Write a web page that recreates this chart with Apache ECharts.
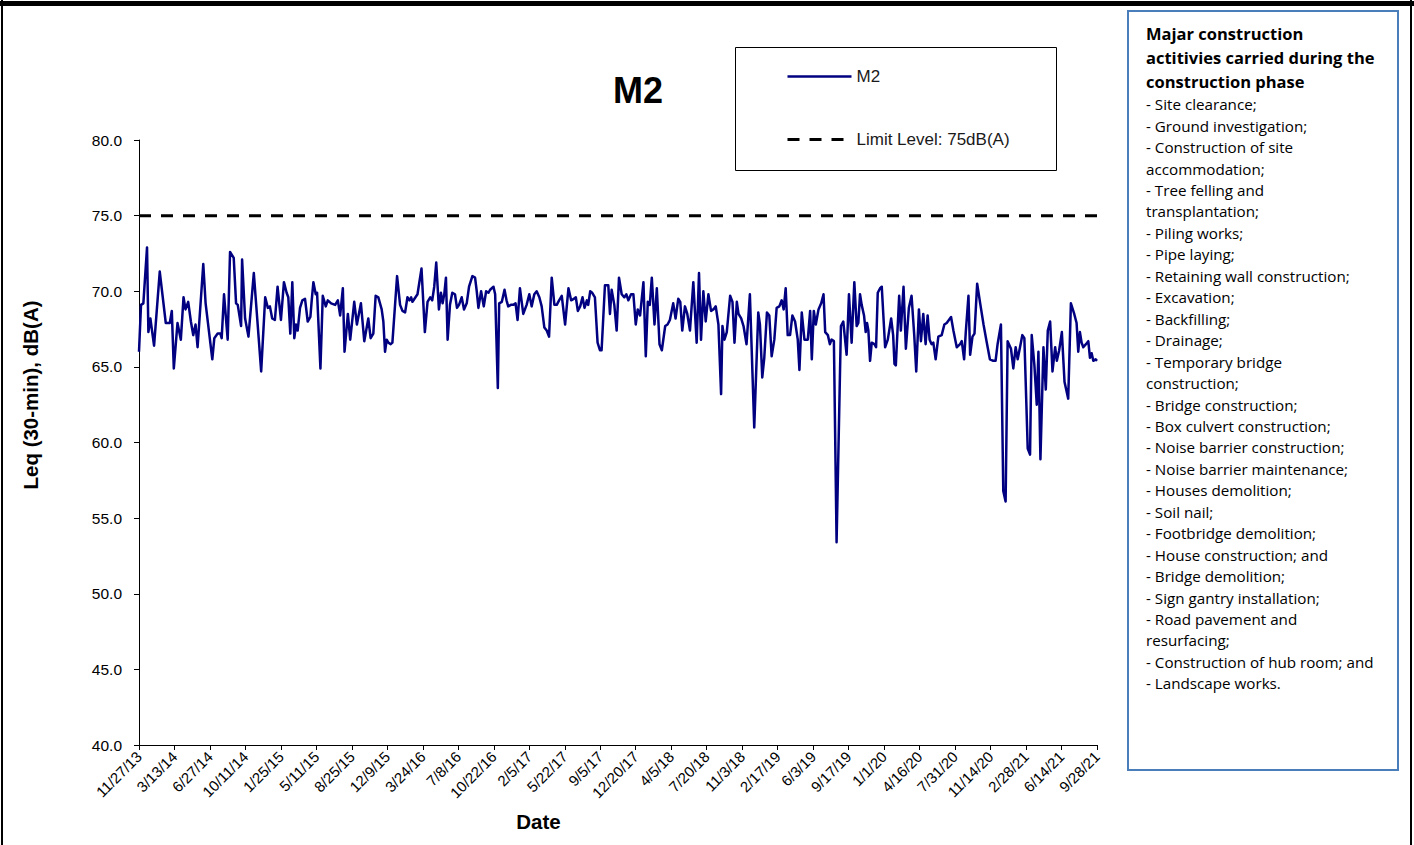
<!DOCTYPE html>
<html>
<head>
<meta charset="utf-8">
<title>M2 noise monitoring</title>
<script src="https://cdn.jsdelivr.net/npm/echarts@6/dist/echarts.min.js"></script>
<style>
  html, body { margin: 0; padding: 0; background: #fff; }
  #chart { width: 1414px; height: 845px; }
</style>
</head>
<body>
<div id="chart"></div>
<script>
// Measurement dates at station M2
const sampleDates = [
  '2013-11-27','2013-12-03','2013-12-10','2013-12-21','2013-12-25','2013-12-31','2014-01-11','2014-01-28',
  '2014-02-15','2014-02-27','2014-03-05','2014-03-11','2014-03-22','2014-04-01','2014-04-09','2014-04-15',
  '2014-04-23','2014-05-01','2014-05-08','2014-05-15','2014-05-21','2014-06-07','2014-06-14','2014-07-04',
  '2014-07-10','2014-07-20','2014-07-28','2014-08-01','2014-08-08','2014-08-19','2014-08-26','2014-09-06',
  '2014-09-13','2014-09-18','2014-09-28','2014-10-01','2014-10-10','2014-10-20','2014-11-05','2014-11-27',
  '2014-12-09','2014-12-17','2014-12-23','2014-12-30',
  '2015-01-07','2015-01-15','2015-01-25','2015-02-03','2015-02-11','2015-02-16','2015-02-22','2015-02-28',
  '2015-03-06','2015-03-11','2015-03-16','2015-03-23','2015-03-30','2015-04-07','2015-04-15','2015-04-23',
  '2015-04-27','2015-05-02','2015-05-09','2015-05-13','2015-05-23','2015-05-30','2015-06-08','2015-06-14',
  '2015-06-24','2015-07-06','2015-07-14','2015-07-21','2015-07-29','2015-08-03','2015-08-13','2015-08-20',
  '2015-09-01','2015-09-09','2015-09-21','2015-10-01','2015-10-13','2015-10-20','2015-10-28','2015-11-04',
  '2015-11-12','2015-11-22','2015-11-27','2015-12-02','2015-12-07','2015-12-12','2015-12-19','2015-12-24',
  '2016-01-07','2016-01-16','2016-01-23','2016-01-31','2016-02-07','2016-02-13','2016-02-18','2016-02-22',
  '2016-02-28','2016-03-08','2016-03-20','2016-03-30','2016-04-07','2016-04-15','2016-04-21','2016-04-27',
  '2016-05-03','2016-05-11','2016-05-17','2016-05-22','2016-05-27','2016-06-01','2016-06-06','2016-06-13',
  '2016-06-20','2016-06-28','2016-07-04','2016-07-10','2016-07-18','2016-07-25','2016-08-02','2016-08-09',
  '2016-08-19','2016-08-27','2016-09-01','2016-09-06','2016-09-14','2016-09-22','2016-09-29','2016-10-06',
  '2016-10-11','2016-10-21','2016-10-26','2016-11-03','2016-11-07','2016-11-15','2016-11-23','2016-11-29',
  '2016-12-04','2016-12-12','2016-12-19','2016-12-26',
  '2017-01-01','2017-01-08','2017-01-18','2017-01-28','2017-02-05','2017-02-12','2017-02-20','2017-02-27',
  '2017-03-07','2017-03-14','2017-03-22','2017-03-29','2017-04-05','2017-04-13','2017-04-21','2017-04-28',
  '2017-05-05','2017-05-13','2017-05-23','2017-06-02','2017-06-10','2017-06-18','2017-06-24','2017-06-30',
  '2017-07-07','2017-07-14','2017-07-20','2017-07-27','2017-07-31','2017-08-06','2017-08-12','2017-08-20',
  '2017-08-28','2017-09-04','2017-09-09','2017-09-19','2017-09-29','2017-10-04','2017-10-09','2017-10-17',
  '2017-10-24','2017-10-31','2017-11-08','2017-11-16','2017-11-22','2017-11-28','2017-12-06','2017-12-13',
  '2017-12-20','2017-12-26',
  '2018-01-02','2018-01-12','2018-01-19','2018-01-25','2018-01-31','2018-02-06','2018-02-14','2018-02-21',
  '2018-03-01','2018-03-08','2018-03-18','2018-03-25','2018-04-01','2018-04-11','2018-04-18','2018-04-26',
  '2018-05-02','2018-05-08','2018-05-16','2018-05-23','2018-05-31','2018-06-10','2018-06-20','2018-06-27',
  '2018-07-03','2018-07-10','2018-07-17','2018-07-25','2018-08-02','2018-08-09','2018-08-16','2018-08-24',
  '2018-09-01','2018-09-05','2018-09-11','2018-09-18','2018-09-28','2018-10-05','2018-10-11','2018-10-18',
  '2018-10-23','2018-10-31','2018-11-07','2018-11-16','2018-11-26','2018-12-09','2018-12-21','2018-12-26',
  '2019-01-02','2019-01-08','2019-01-16','2019-01-23','2019-01-30','2019-02-07','2019-02-14','2019-02-22',
  '2019-03-01','2019-03-07','2019-03-13','2019-03-19','2019-03-26','2019-04-02','2019-04-10','2019-04-18',
  '2019-04-23','2019-04-30','2019-05-08','2019-05-18','2019-05-25','2019-05-30','2019-06-05','2019-06-11',
  '2019-06-19','2019-06-27','2019-07-04','2019-07-09','2019-07-17','2019-07-23','2019-07-28','2019-08-04',
  '2019-08-12','2019-08-25','2019-09-01','2019-09-11','2019-09-18','2019-09-26','2019-10-04','2019-10-11',
  '2019-10-16','2019-10-21','2019-10-26','2019-11-02','2019-11-07','2019-11-11','2019-11-15','2019-11-20',
  '2019-11-25','2019-12-03','2019-12-08','2019-12-13','2019-12-20','2019-12-25',
  '2020-01-04','2020-01-12','2020-01-22','2020-01-28','2020-02-01','2020-02-05','2020-02-15','2020-02-20',
  '2020-02-28','2020-03-06','2020-03-15','2020-03-23','2020-03-31','2020-04-06','2020-04-14','2020-04-20',
  '2020-04-27','2020-05-04','2020-05-10','2020-05-16','2020-05-22','2020-05-27','2020-06-03','2020-06-11',
  '2020-06-21','2020-06-29','2020-07-06','2020-07-19','2020-07-26','2020-08-05','2020-08-15','2020-08-20',
  '2020-08-27','2020-09-01','2020-09-09','2020-09-14','2020-09-21','2020-09-27','2020-10-05','2020-10-14',
  '2020-10-24','2020-11-02','2020-11-12','2020-11-22','2020-11-29','2020-12-05','2020-12-15','2020-12-22',
  '2020-12-29',
  '2021-01-04','2021-01-14','2021-01-21','2021-01-28','2021-02-03','2021-02-10','2021-02-17','2021-02-23',
  '2021-03-05','2021-03-12','2021-03-17','2021-03-25','2021-04-01','2021-04-06','2021-04-12','2021-04-21',
  '2021-04-28','2021-05-04','2021-05-11','2021-05-18','2021-05-26','2021-05-31','2021-06-07','2021-06-15',
  '2021-06-23','2021-07-04','2021-07-12','2021-07-22','2021-07-29','2021-08-03','2021-08-08','2021-08-13',
  '2021-08-18','2021-08-26','2021-09-02','2021-09-07','2021-09-12','2021-09-17','2021-09-24','2021-09-28'
];

// Leq (30-min) in dB(A), one value per date above
const m2Leq = [
  66.0,69.1,69.2,72.9,67.3,68.2,66.4,71.3,
  67.9,67.9,68.7,64.9,67.9,66.8,69.6,68.8,
  69.3,68.0,67.1,67.8,66.3,71.8,69.2,65.5,
  66.9,67.2,67.2,66.9,69.8,66.8,72.6,72.2,
  69.2,69.1,67.7,72.1,68.2,67.0,71.2,64.7,
  69.6,68.9,69.0,68.2,
  68.1,70.3,68.1,70.6,69.9,69.6,67.2,70.6,
  66.9,67.8,67.4,68.9,69.4,69.5,68.0,68.3,
  69.4,70.6,69.8,69.9,64.9,69.7,69.0,69.4,
  69.2,69.1,69.4,68.4,70.2,66.0,68.5,66.8,
  69.3,67.8,69.2,66.7,68.2,66.9,67.2,69.7,
  69.6,68.8,68.0,66.0,66.8,66.6,66.5,66.6,
  71.0,69.1,68.7,68.6,69.6,69.4,69.6,69.3,
  69.5,69.8,71.5,67.3,69.3,69.6,69.4,70.3,
  71.9,68.8,69.9,69.2,69.8,70.9,66.8,69.1,
  69.9,69.8,68.9,69.1,69.6,68.8,69.2,70.3,
  71.0,70.9,70.0,68.9,70.0,69.0,70.0,69.9,
  70.1,70.3,69.8,63.6,69.2,69.3,70.1,69.4,
  69.0,69.1,69.1,69.2,
  68.1,70.2,68.5,69.1,69.8,69.0,69.8,70.0,
  69.6,69.0,67.6,67.4,67.0,70.9,69.1,69.1,
  69.4,69.7,67.8,70.2,69.4,69.5,69.6,68.7,
  69.0,69.6,68.9,69.4,69.1,70.0,69.9,69.6,
  66.6,66.1,66.1,70.4,70.4,68.5,70.1,69.1,
  67.4,70.9,69.8,69.6,69.8,69.4,69.8,69.8,
  67.8,68.8,
  68.4,70.6,65.7,69.3,69.1,70.9,67.8,70.2,
  66.5,66.1,67.7,67.8,68.1,69.2,68.2,69.5,
  69.3,67.4,69.0,68.5,67.4,70.6,66.6,71.2,
  66.8,70.0,68.0,69.8,68.7,68.8,69.0,67.8,
  63.2,67.7,66.8,67.3,69.7,69.3,66.6,69.3,
  68.5,68.2,67.7,66.5,69.8,61.0,68.6,67.8,
  64.3,65.6,68.6,68.4,65.7,66.8,68.9,69.0,
  69.4,68.8,70.2,67.1,67.1,68.4,68.0,66.8,
  64.8,68.6,66.8,66.8,68.7,65.5,68.7,67.8,
  68.8,69.2,69.8,67.3,67.1,66.5,66.8,66.7,
  53.4,67.7,68.0,65.8,69.8,66.6,70.6,67.7,
  67.9,69.8,69.1,68.4,67.3,67.9,67.4,65.4,
  66.6,66.5,66.3,69.9,70.2,70.3,
  66.3,66.8,68.2,67.1,65.2,65.1,69.7,67.4,
  70.3,66.2,68.9,69.7,67.1,64.7,68.8,66.7,
  68.5,66.5,68.4,66.8,66.5,66.6,65.5,67.0,
  67.1,67.8,67.9,68.3,67.4,66.3,66.5,66.7,
  65.5,67.3,69.7,65.8,67.0,67.2,70.5,69.2,
  67.8,66.7,65.5,65.4,65.4,66.5,67.8,56.8,
  56.1,
  66.7,66.2,64.9,66.3,65.5,66.3,67.1,66.9,
  59.6,59.2,67.1,65.1,62.5,66.0,58.9,66.3,
  63.5,67.4,68.0,64.7,66.3,65.4,66.1,67.3,
  64.0,62.9,69.2,68.5,67.9,66.0,67.3,66.6,
  66.3,66.5,66.7,65.6,65.9,65.4,65.5,65.4
];

const limitLevel = 75;
const limitName = 'Limit Level: 75dB(A)';

// Date axis: ticks every 106 days starting at the first survey date
const axisStartDate = '2013-11-27';
const axisEndDate = '2021-09-28';
const tickStepDays = 106;
const dateTickLabels = [
  '11/27/13','3/13/14','6/27/14','10/11/14','1/25/15','5/11/15','8/25/15','12/9/15',
  '3/24/16','7/8/16','10/22/16','2/5/17','5/22/17','9/5/17','12/20/17','4/5/18',
  '7/20/18','11/3/18','2/17/19','6/3/19','9/17/19','1/1/20','4/16/20','7/31/20',
  '11/14/20','2/28/21','6/14/21','9/28/21'
];

// Level axis
const levelMin = 40;
const levelMax = 80;
const levelStep = 5;

// Side note text
const noteHeading = ['Majar construction', 'actitivies carried during the', 'construction phase'];
const noteLines = [
  '- Site clearance;',
  '- Ground investigation;',
  '- Construction of site',
  'accommodation;',
  '- Tree felling and',
  'transplantation;',
  '- Piling works;',
  '- Pipe laying;',
  '- Retaining wall construction;',
  '- Excavation;',
  '- Backfilling;',
  '- Drainage;',
  '- Temporary bridge',
  'construction;',
  '- Bridge construction;',
  '- Box culvert construction;',
  '- Noise barrier construction;',
  '- Noise barrier maintenance;',
  '- Houses demolition;',
  '- Soil nail;',
  '- Footbridge demolition;',
  '- House construction; and',
  '- Bridge demolition;',
  '- Sign gantry installation;',
  '- Road pavement and',
  'resurfacing;',
  '- Construction of hub room; and',
  '- Landscape works.'
];

const DAY_MS = 86400000;
const toDayNo = d => Math.round((Date.parse(d + 'T00:00:00Z') - Date.parse(axisStartDate + 'T00:00:00Z')) / DAY_MS);
const lastDay = toDayNo(axisEndDate);

const m2Points = sampleDates.map((d, i) => [toDayNo(d), m2Leq[i]]);
const limitPoints = [[0, limitLevel], [lastDay, limitLevel]];

const ARIAL = '"Liberation Sans", Arial, sans-serif';
const NOTE_FONT = '"Open Sans", "Noto Sans", sans-serif';

const chart = echarts.init(document.getElementById('chart'), null, { renderer: 'svg' });

chart.setOption({
  animation: false,
  backgroundColor: '#ffffff',
  title: {
    text: 'M2',
    left: 613,
    top: 72,
    padding: 0,
    textStyle: { fontFamily: ARIAL, fontSize: 36, fontWeight: 'bold', color: '#000' }
  },
  legend: {
    orient: 'vertical',
    left: 786,
    top: 68,
    padding: 0,
    itemWidth: 64,
    itemHeight: 14,
    itemGap: 46,
    itemStyle: { opacity: 0 },
    textStyle: { fontFamily: ARIAL, fontSize: 17, color: '#1a1a1a' },
    lineStyle: { width: 'inherit', type: 'inherit' },
    data: ['M2', limitName]
  },
  grid: { left: 139, top: 140, width: 958, height: 605, containLabel: false },
  xAxis: {
    type: 'value',
    min: 0,
    max: lastDay,
    interval: tickStepDays,
    axisLine: { lineStyle: { color: '#000', width: 1 } },
    axisTick: { show: true, inside: false, length: 5, lineStyle: { color: '#000' } },
    splitLine: { show: false },
    axisLabel: {
      rotate: 45,
      margin: 9,
      fontFamily: ARIAL,
      fontSize: 15,
      color: '#000',
      formatter: v => dateTickLabels[Math.round(v / tickStepDays)] || ''
    }
  },
  yAxis: {
    type: 'value',
    min: levelMin,
    max: levelMax,
    interval: levelStep,
    axisLine: { show: true, lineStyle: { color: '#000', width: 1 } },
    axisTick: { show: true, inside: false, length: 5, lineStyle: { color: '#000' } },
    splitLine: { show: false },
    axisLabel: {
      margin: 17,
      fontFamily: ARIAL,
      fontSize: 15.5,
      color: '#000',
      formatter: v => v.toFixed(1)
    }
  },
  series: [
    {
      name: 'M2',
      type: 'line',
      data: m2Points,
      symbol: 'none',
      showSymbol: false,
      itemStyle: { color: '#000080' },
      lineStyle: { color: '#000080', width: 2.5, join: 'round' },
      z: 3
    },
    {
      name: limitName,
      type: 'line',
      data: limitPoints,
      symbol: 'none',
      showSymbol: false,
      itemStyle: { color: '#000' },
      lineStyle: { color: '#000', width: 3, type: [12, 10] },
      z: 2
    }
  ],
  graphic: [
    // outer frame
    { type: 'rect', shape: { x: 0, y: 1, width: 1414, height: 5 }, style: { fill: '#000' }, silent: true },
    { type: 'rect', shape: { x: 1, y: 0, width: 2, height: 845 }, style: { fill: '#000' }, silent: true },
    { type: 'rect', shape: { x: 1410, y: 0, width: 2, height: 845 }, style: { fill: '#000' }, silent: true },
    // legend frame
    {
      type: 'rect',
      shape: { x: 735.5, y: 47.5, width: 321, height: 123 },
      style: { fill: 'none', stroke: '#000', lineWidth: 1 },
      silent: true
    },
    // side note frame
    {
      type: 'rect',
      shape: { x: 1128, y: 11, width: 270, height: 759 },
      style: { fill: '#fff', stroke: '#4A7EBB', lineWidth: 2 },
      silent: true
    },
    {
      type: 'text',
      x: 1146,
      y: 21,
      style: {
        text: noteHeading.join('\n'),
        font: 'bold 16.5px ' + NOTE_FONT,
        lineHeight: 24,
        fill: '#000',
        textAlign: 'left',
        textVerticalAlign: 'top',
        align: 'left',
        verticalAlign: 'top'
      },
      silent: true
    },
    {
      type: 'text',
      x: 1146,
      y: 93.5,
      style: {
        text: noteLines.join('\n'),
        font: '15.2px ' + NOTE_FONT,
        lineHeight: 21.45,
        fill: '#000',
        textAlign: 'left',
        textVerticalAlign: 'top',
        align: 'left',
        verticalAlign: 'top'
      },
      silent: true
    },
    // axis titles
    {
      type: 'text',
      x: 538.5,
      y: 821,
      style: {
        text: 'Date',
        font: 'bold 20.5px ' + ARIAL,
        fill: '#000',
        textAlign: 'center',
        textVerticalAlign: 'middle',
        align: 'center',
        verticalAlign: 'middle'
      },
      silent: true
    },
    {
      type: 'text',
      x: 30,
      y: 395,
      rotation: Math.PI / 2,
      style: {
        text: 'Leq (30-min), dB(A)',
        font: 'bold 20.5px ' + ARIAL,
        fill: '#000',
        textAlign: 'center',
        textVerticalAlign: 'middle',
        align: 'center',
        verticalAlign: 'middle'
      },
      silent: true
    }
  ]
});
</script>
</body>
</html>
